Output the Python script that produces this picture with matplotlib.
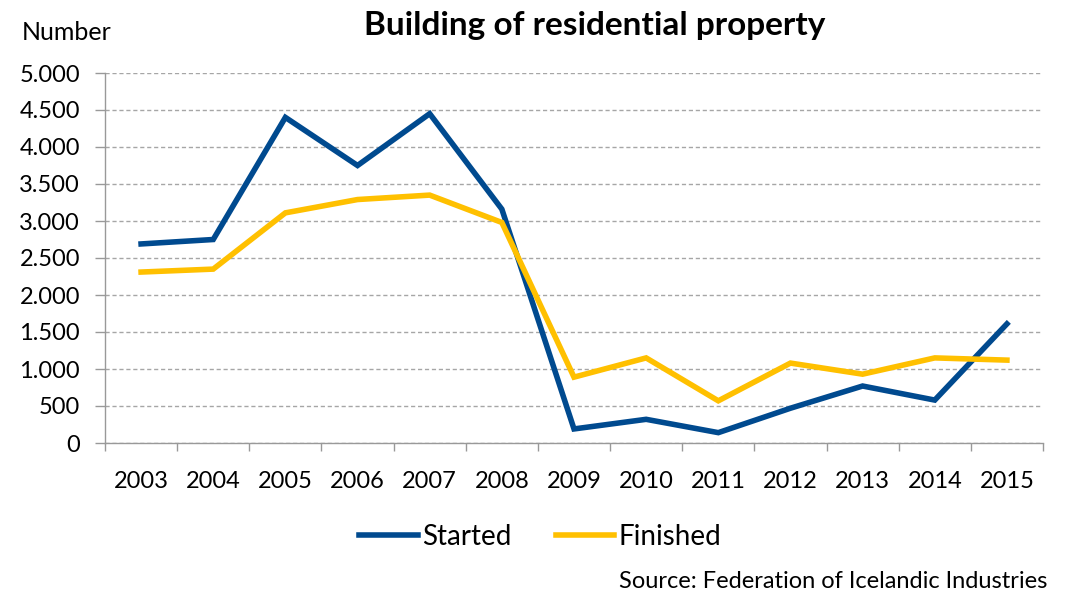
import matplotlib
matplotlib.use("Agg")
import matplotlib.pyplot as plt
import numpy as np
from matplotlib.ticker import FuncFormatter, FixedLocator

years = ["2003", "2004", "2005", "2006", "2007", "2008", "2009",
         "2010", "2011", "2012", "2013", "2014", "2015"]
started = [2690, 2750, 4400, 3750, 4450, 3160, 190, 320, 140, 470, 770, 580, 1610]
finished = [2310, 2350, 3110, 3290, 3350, 2980, 890, 1150, 570, 1080, 930, 1150, 1120]
yticks = [0, 500, 1000, 1500, 2000, 2500, 3000, 3500, 4000, 4500, 5000]

plt.rcParams['font.family'] = ['Lato', 'DejaVu Sans']

fig = plt.figure(figsize=(10.69, 5.93), dpi=100)
ax = fig.add_axes([105/1069, 1-443/593, (1043-105)/1069, (443-73)/593])

x = np.arange(len(years))
ax.plot(x, started, color="#004A8F", lw=4, label="Started", solid_joinstyle="miter")
ax.plot(x, finished, color="#FFC000", lw=4, label="Finished", solid_joinstyle="miter")

ax.set_xlim(-0.5, len(years) - 0.5)
ax.set_ylim(0, 5000)
ax.set_yticks(yticks)
ax.yaxis.set_major_formatter(FuncFormatter(lambda v, p: f"{int(v):,}".replace(",", ".")))
ax.set_xticks(x)
ax.set_xticklabels(years)
ax.xaxis.set_minor_locator(FixedLocator(np.arange(-0.5, len(years), 1.0)))
ax.tick_params(axis="x", which="major", length=0, pad=20, labelsize=17)
ax.tick_params(axis="x", which="minor", length=6, color="#999999", width=1, direction="out")
ax.tick_params(axis="y", length=7, color="#999999", width=1, labelsize=17, pad=11)

ax.grid(axis="y", color="#A6A6A6", linestyle=(0, (3, 2)), lw=1)
ax.set_axisbelow(True)
for s in ["top", "right"]:
    ax.spines[s].set_visible(False)
for s in ["left", "bottom"]:
    ax.spines[s].set_color("#999999")
    ax.spines[s].set_linewidth(1)

fig.text(22/1069, 1-32/593, "Number", fontsize=18, va="center", ha="left")
fig.text(595/1069, 1-26/593, "Building of residential property", fontsize=24,
         fontweight="bold", ha="center", va="center")
fig.text(1047/1069, 1-581/593, "Source: Federation of Icelandic Industries",
         fontsize=17, ha="right", va="center")

leg = fig.legend(loc="center", bbox_to_anchor=(540/1069, 1-537/593), ncol=2,
                 frameon=False, fontsize=20, handlelength=2.1, handletextpad=0.15,
                 columnspacing=1.6)

fig.savefig("out.png", dpi=100)
